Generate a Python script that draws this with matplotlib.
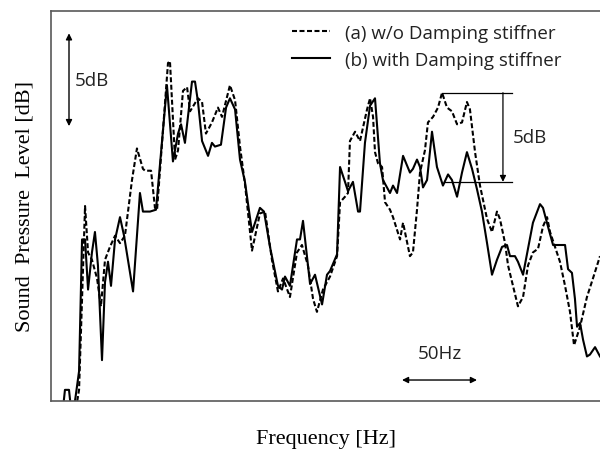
import matplotlib
matplotlib.use("Agg")
import matplotlib.pyplot as plt

# frequency (Hz, relative) / level (dB, relative)
freq_b = [8.0, 9.3, 12.0, 13.3, 16.0, 18.7, 20.7, 22.7, 24.7, 27.3, 29.3, 31.3, 34.0, 36.0,
          38.0, 40.0, 42.7, 46.0, 48.7, 54.7, 59.3, 61.3, 66.0, 70.0, 77.3, 81.3, 84.7, 86.7,
          89.3, 94.0, 96.0, 98.0, 100.7, 104.7, 107.3, 109.3, 113.3, 116.7, 119.3, 122.7,
          126.0, 129.3, 134.0, 139.3, 142.0, 146.0, 151.3, 154.0, 156.0, 159.3, 164.0, 166.0,
          168.0, 172.7, 176.0, 180.7, 184.0, 186.0, 190.7, 192.7, 196.0, 198.0, 201.3, 204.7,
          206.0, 209.3, 212.7, 216.0, 219.3, 221.3, 226.0, 228.0, 230.7, 234.7, 239.3, 241.3,
          244.0, 246.0, 248.0, 250.7, 254.0, 257.3, 261.3, 264.7, 267.3, 270.7, 274.0, 277.3,
          280.7, 284.0, 287.3, 290.7, 294.0, 297.3, 300.7, 304.0, 306.0, 309.3, 311.3, 314.7,
          318.0, 321.3, 326.0, 328.0, 331.3, 334.7, 342.7, 344.7, 347.3, 349.3, 350.7, 352.7,
          354.7, 357.3, 359.3, 362.7, 366.0]
spl_b = [-0.4, 0.6, 0.6, -0.4, 0.0, 1.6, 8.7, 8.7, 6.0, 8.0, 9.1, 7.3, 2.2, 6.4,
         7.5, 6.2, 8.7, 9.9, 8.9, 5.9, 11.2, 10.2, 10.2, 10.3, 17.0, 12.9, 14.4, 14.9,
         13.9, 17.2, 17.2, 16.1, 14.0, 13.2, 13.9, 13.7, 13.8, 15.8, 16.3, 15.7,
         13.0, 11.8, 9.1, 10.4, 10.2, 8.3, 6.2, 6.0, 6.7, 6.2, 8.7, 8.7,
         9.7, 6.3, 6.8, 5.2, 6.8, 7.0, 7.9, 12.6, 11.8, 11.3, 11.8, 10.2,
         10.2, 13.9, 15.9, 16.3, 12.8, 11.9, 11.2, 11.6, 11.2, 13.2, 12.3, 12.5,
         13.0, 12.6, 11.5, 11.9, 14.5, 12.6, 11.6, 12.2, 11.9, 11.0, 12.3, 13.4,
         12.5, 11.4, 10.2, 8.5, 6.8, 7.6, 8.3, 8.4, 7.8, 7.8, 7.5, 6.8,
         8.2, 9.6, 10.6, 10.4, 9.4, 8.4, 8.4, 7.1, 6.9, 5.5, 4.0, 4.2,
         3.3, 2.4, 2.5, 2.9, 2.4]

freq_a = [16.7, 18.7, 20.7, 22.7, 24.7, 27.3, 30.7, 33.3, 36.0, 39.3, 42.7, 46.0, 49.3,
          54.0, 57.3, 61.3, 62.7, 66.7, 69.3, 70.7, 78.0, 79.3, 82.7, 84.7, 88.0, 90.7,
          92.7, 98.0, 100.7, 103.3, 107.3, 111.3, 114.0, 119.3, 122.7, 126.0, 129.3, 134.0,
          139.3, 142.7, 147.3, 151.3, 154.7, 159.3, 164.0, 167.3, 171.3, 174.7, 177.3, 181.3,
          186.0, 190.7, 192.7, 196.0, 198.0, 199.3, 202.7, 206.0, 210.7, 212.7, 214.7, 216.0,
          218.0, 220.7, 222.7, 226.0, 228.0, 232.7, 234.7, 239.3, 241.3, 244.0, 246.0, 249.3,
          251.3, 254.7, 258.0, 260.7, 264.0, 267.3, 270.7, 274.0, 277.3, 279.3, 282.7, 286.0,
          290.7, 294.0, 297.3, 299.3, 302.7, 304.7, 308.0, 311.3, 314.7, 318.0, 321.3, 324.7,
          328.0, 330.7, 332.7, 336.0, 339.3, 342.7, 346.0, 348.7, 352.7, 357.3, 361.3, 366.0]
spl_a = [-0.4, 0.6, 5.5, 10.5, 8.0, 7.6, 6.6, 5.1, 7.6, 8.3, 8.9, 8.5, 8.9,
         11.9, 13.6, 12.5, 12.4, 12.4, 10.4, 10.3, 18.2, 18.3, 13.0, 13.5, 16.7, 16.9,
         15.6, 16.3, 16.1, 14.4, 15.0, 15.8, 15.3, 17.0, 16.2, 13.7, 11.7, 8.1,
         10.1, 10.2, 7.6, 5.9, 6.6, 5.6, 8.0, 8.4, 7.3, 5.5, 4.8, 6.0,
         6.7, 7.8, 10.7, 11.0, 11.2, 14.0, 14.5, 14.0, 15.7, 16.3, 15.3, 13.4,
         12.8, 12.6, 10.7, 10.3, 9.9, 8.7, 9.6, 7.8, 8.0, 10.3, 12.3, 13.5,
         15.0, 15.3, 15.8, 16.6, 15.8, 15.6, 14.9, 15.0, 16.1, 15.7, 13.4, 11.6,
         9.8, 9.1, 10.2, 9.8, 8.5, 7.3, 6.2, 5.1, 5.6, 7.3, 8.0, 8.2,
         9.4, 9.9, 9.1, 8.3, 7.5, 6.2, 4.8, 3.0, 4.0, 5.6, 6.6, 7.8]

labels = ["(a) w/o Damping stiffner", "(b) with Damping stiffner"]

fig = plt.figure(figsize=(6.0, 4.52), dpi=100)
ax = fig.add_axes([51/600, 50/452, 549/600, 390/452])

ax.plot(freq_a, spl_a, color="black", lw=1.5, ls=(0, (2.4, 1.2)), label=labels[0])
ax.plot(freq_b, spl_b, color="black", lw=1.5, label=labels[1])

ax.set_xlim(0, 366)
ax.set_ylim(0, 21)
ax.set_xticks([])
ax.set_yticks([])
for side in ["left", "top", "bottom"]:
    ax.spines[side].set_color("#595959")
    ax.spines[side].set_linewidth(1.2)
ax.spines["right"].set_visible(False)

ax.set_xlabel("Frequency [Hz]", family="Liberation Serif", fontsize=16, labelpad=20)
ax.set_ylabel("Sound  Pressure  Level [dB]", family="Liberation Serif", fontsize=16, labelpad=12)

leg = ax.legend(loc="upper left", bbox_to_anchor=(0.439, 0.967), frameon=False,
                prop={"family": "Open Sans", "size": 13.5}, handlelength=2.0,
                handletextpad=0.8, labelspacing=0.47, borderaxespad=0, borderpad=0)
for t in leg.get_texts():
    t.set_color("#222222")

arrow = dict(arrowstyle="<|-|>", color="black", lw=1, mutation_scale=9, shrinkA=0, shrinkB=0)
sans = dict(family="Open Sans", fontsize=13.5, color="#222222")

# left 5 dB scale
ax.annotate("", xy=(12.0, 19.8), xytext=(12.0, 14.8), arrowprops=arrow)
ax.text(16.0, 17.3, "5dB", va="center", ha="left", **sans)

# 50 Hz scale
ax.annotate("", xy=(234.0, 1.13), xytext=(284.0, 1.13), arrowprops=arrow)
ax.text(259.0, 2.6, "50Hz", va="center", ha="center", **sans)

# right 5 dB difference
ax.plot([260.7, 307.3], [16.6, 16.6], color="black", lw=0.9)
ax.plot([262.7, 307.3], [11.8, 11.8], color="black", lw=0.9)
ax.annotate("", xy=(301.3, 11.8), xytext=(301.3, 16.6),
            arrowprops=dict(arrowstyle="-|>", color="black", lw=0.9, mutation_scale=9,
                            shrinkA=0, shrinkB=0))
ax.text(307.5, 14.2, "5dB", va="center", ha="left", **sans)

fig.savefig("out.png", dpi=100)
